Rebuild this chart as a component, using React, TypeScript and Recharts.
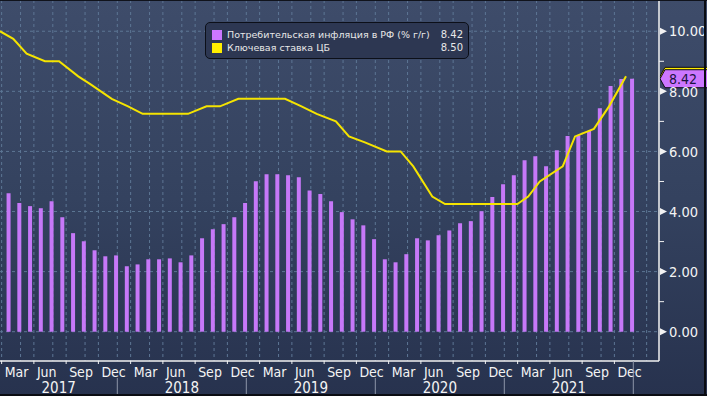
import React from 'react'
import {
  ComposedChart,
  Bar,
  Line,
  XAxis,
  YAxis,
  CartesianGrid,
  ReferenceLine
} from 'recharts'

// CPI, % y/y, monthly from Feb 2017 to Dec 2021
const cpiFirstMonth = '2017-02'
const cpi = [
  4.61, 4.28, 4.18, 4.11, 4.34, 3.81, 3.28, 3.01, 2.71, 2.51, 2.54,
  2.18, 2.24, 2.41, 2.41, 2.44, 2.31, 2.54, 3.11, 3.41, 3.58, 3.81, 4.28,
  5.01, 5.24, 5.24, 5.21, 5.14, 4.7, 4.58, 4.34, 3.98, 3.74, 3.54, 3.08,
  2.41, 2.31, 2.58, 3.11, 3.04, 3.21, 3.37, 3.61, 3.68, 4.01, 4.48, 4.91,
  5.21, 5.71, 5.84, 5.51, 6.04, 6.51, 6.54, 6.68, 7.44, 8.18, 8.41, 8.42
]

// CBR key rate, vertices of the plotted line
const rateDates = [
  '2017-02-03', '2017-03-11', '2017-04-18', '2017-06-09', '2017-07-19',
  '2017-09-12', '2017-10-15', '2017-12-16', '2018-02-01', '2018-03-12',
  '2018-07-19', '2018-09-10', '2018-10-18', '2018-12-09', '2019-04-19',
  '2019-06-05', '2019-07-18', '2019-09-11', '2019-10-18', '2019-12-02',
  '2020-02-03', '2020-03-12', '2020-04-17', '2020-06-10', '2020-07-16',
  '2021-02-07', '2021-03-08', '2021-04-10', '2021-06-14', '2021-07-19',
  '2021-09-11', '2021-10-24', '2021-12-11'
]
const rateValues = [
  10.0, 9.75, 9.25, 9.0, 9.0,
  8.5, 8.25, 7.75, 7.5, 7.25,
  7.25, 7.5, 7.5, 7.75, 7.75,
  7.5, 7.25, 7.0, 6.5, 6.3,
  6.0, 6.0, 5.5, 4.5, 4.25,
  4.25, 4.5, 5.0, 5.5, 6.5,
  6.75, 7.5, 8.5
]

const seriesNames = ['Потребительская инфляция в РФ (% г/г)', 'Ключевая ставка ЦБ']
const years = [2017, 2018, 2019, 2020, 2021]
const monthTickNames = ['Mar', 'Jun', 'Sep', 'Dec']
const yTicks = [0, 2, 4, 6, 8, 10]
const yMinorTicks = [1, 3, 5, 7, 9]

const BASE_YEAR = 2017
const X_MIN = 1.088
const X_MAX = 62.39
const Y_MIN = -0.975
const Y_MAX = 11.04
const BAR_IN_MONTH = 0.92 // bars sit at the end of their month
const TICK_SHIFT = -0.76

const CPI_COLOR = '#c678f8'
const RATE_COLOR = '#f5e400'
const AXIS_COLOR = '#f2f2f2'
const NARROW = "'Liberation Sans Narrow', 'Arial Narrow', 'DejaVu Sans Condensed', 'Liberation Sans', sans-serif"

// months since Jan 2017 (fractional)
const toMonths = (date: string) => {
  const [y, m, d] = date.split('-').map(Number)
  const dim = new Date(y, m, 0).getDate()
  return (y - BASE_YEAR) * 12 + (m - 1) + (d ? (d - 1) / dim : 0)
}

const firstIdx = toMonths(cpiFirstMonth)
const barData = cpi.map((v, i) => ({ t: firstIdx + i + BAR_IN_MONTH, cpi: v }))
const rateData = rateDates.map((d, i) => ({ t: toMonths(d), rate: rateValues[i] }))

const lastCpi = cpi[cpi.length - 1]
const lastRate = rateValues[rateValues.length - 1]

type TickDef = { t: number; kind: 'month' | 'sep' | 'year'; label: string }

const xTickDefs: TickDef[] = [
  ...years.flatMap(y =>
    monthTickNames.map((name, j) => ({
      t: (y - BASE_YEAR) * 12 + 2 + 3 * j + TICK_SHIFT,
      kind: 'month' as const,
      label: name
    }))
  ),
  ...years.map(y => ({ t: (y - BASE_YEAR + 1) * 12, kind: 'sep' as const, label: '' })),
  ...years.map(y => ({
    t: (Math.max(X_MIN, (y - BASE_YEAR) * 12) + Math.min(X_MAX, (y - BASE_YEAR + 1) * 12)) / 2,
    kind: 'year' as const,
    label: String(y)
  }))
]

// dashed verticals: quarter starts and the label tick spots
const gridT: number[] = []
for (let j = 0; j <= 20; j++) {
  if (3 * j > X_MIN && 3 * j < X_MAX) gridT.push(3 * j)
  const b = 3 * j + 2 + TICK_SHIFT
  if (b > X_MIN && b < X_MAX) gridT.push(b)
}

const XTick = (props: any) => {
  const { x, y, payload } = props
  const def = xTickDefs.find(d => Math.abs(d.t - payload.value) < 1e-6)
  if (!def) return null
  if (def.kind === 'month') {
    return (
      <g>
        <line x1={x} x2={x} y1={y} y2={y + 3} stroke={AXIS_COLOR} strokeWidth={1} />
        <text x={x + 3} y={y + 16} fill="#f4f4f4" fontSize={14} fontFamily={NARROW}>
          {def.label}
        </text>
      </g>
    )
  }
  if (def.kind === 'sep') {
    const last = def.t >= (years[years.length - 1] - BASE_YEAR + 1) * 12
    return <line x1={x} x2={x} y1={last ? y : y + 17} y2={y + 35} stroke="#8c95a8" strokeWidth={1} />
  }
  return (
    <text x={x} y={y + 32} textAnchor="middle" fill="#f4f4f4" fontSize={15} fontFamily={NARROW}>
      {def.label}
    </text>
  )
}

const YTick = (props: any) => {
  const { x, y, payload } = props
  const v = payload.value
  if (yMinorTicks.includes(v)) {
    return <line x1={x} x2={x + 5} y1={y} y2={y} stroke={AXIS_COLOR} strokeWidth={1} />
  }
  return (
    <g>
      <path d={`M${x + 1},${y - 3.5} L${x + 8},${y} L${x + 1},${y + 3.5} Z`} fill={AXIS_COLOR} />
      <text x={x + 10} y={y} dy="0.36em" fill="#f4f4f4" fontSize={14.5} fontFamily={NARROW}>
        {v.toFixed(2)}
      </text>
    </g>
  )
}

// value flag on the right axis
const Flag = (props: any) => {
  const { viewBox, fill, text, textColor } = props
  if (!viewBox) return null
  const x = viewBox.x + viewBox.width + 1
  const y = viewBox.y
  return (
    <g>
      <path
        d={`M${x},${y} L${x + 5},${y - 9} H708 V${y + 9} H${x + 5} Z`}
        fill={fill}
        stroke="#0a0a12"
        strokeWidth={1}
      />
      {text && (
        <text x={x + 9} y={y} dy="0.36em" fill={textColor} fontSize={14} fontFamily={NARROW}>
          {text}
        </text>
      )}
    </g>
  )
}

const legendItems = [
  { name: seriesNames[0], color: '#cc77ff', value: lastCpi.toFixed(2) },
  { name: seriesNames[1], color: '#ffee00', value: lastRate.toFixed(2) }
]

export default function App() {
  return (
    <div
      style={{
        position: 'relative',
        width: 707,
        height: 396,
        overflow: 'hidden',
        background: 'linear-gradient(180deg, #3e4c6a 0%, #34425f 50%, #27324e 100%)'
      }}
    >
      <style>{'body{margin:0}'}</style>
      <ComposedChart
        width={707}
        height={396}
        data={barData}
        margin={{ top: 0, right: 0, bottom: 0, left: 0 }}
      >
        <CartesianGrid
          xAxisId="m"
          stroke="#5d7694"
          strokeDasharray="3 3"
          horizontalValues={yTicks}
          verticalValues={gridT}
        />
        <XAxis
          xAxisId="m"
          type="number"
          dataKey="t"
          domain={[X_MIN, X_MAX]}
          allowDataOverflow
          ticks={xTickDefs.map(d => d.t)}
          interval={0}
          tick={<XTick />}
          tickLine={false}
          tickSize={0}
          tickMargin={0}
          height={35}
          axisLine={{ stroke: AXIS_COLOR, strokeWidth: 1.5 }}
        />
        <XAxis
          xAxisId="rate"
          type="number"
          dataKey="t"
          domain={[X_MIN, X_MAX]}
          allowDataOverflow
          hide
        />
        <YAxis
          orientation="right"
          type="number"
          domain={[Y_MIN, Y_MAX]}
          allowDataOverflow
          ticks={[...yTicks, ...yMinorTicks].sort((a, b) => a - b)}
          interval={0}
          tick={<YTick />}
          tickLine={false}
          tickSize={0}
          tickMargin={0}
          width={48}
          axisLine={{ stroke: AXIS_COLOR, strokeWidth: 1.5 }}
        />
        <Bar
          xAxisId="m"
          dataKey="cpi"
          fill={CPI_COLOR}
          barSize={4}
          isAnimationActive={false}
        />
        <Line
          xAxisId="rate"
          data={rateData}
          dataKey="rate"
          type="linear"
          stroke={RATE_COLOR}
          strokeWidth={2}
          dot={false}
          activeDot={false}
          isAnimationActive={false}
        />
        {/* key rate flag sits under the CPI flag, only its top edge shows */}
        <ReferenceLine
          xAxisId="m"
          y={lastRate}
          stroke="none"
          label={(p: any) => <Flag {...p} fill="#ffee00" />}
        />
        <ReferenceLine
          xAxisId="m"
          y={lastCpi}
          stroke="none"
          label={(p: any) => (
            <Flag {...p} fill="#cc77ff" textColor="#1a1240" text={lastCpi.toFixed(2)} />
          )}
        />
      </ComposedChart>

      {/* legend box */}
      <div
        style={{
          position: 'absolute',
          left: 205,
          top: 22,
          width: 264,
          height: 37,
          boxSizing: 'border-box',
          border: '1px solid #0c0f18',
          borderRadius: 5,
          background: '#2d3752',
          paddingTop: 5,
          fontFamily: "'DejaVu Sans', Verdana, sans-serif",
          fontSize: 9.5,
          color: '#e8e8e8'
        }}
      >
        {legendItems.map(item => (
          <div
            key={item.name}
            style={{ display: 'flex', alignItems: 'center', height: 13, lineHeight: '13px' }}
          >
            <span
              style={{ width: 10, height: 10, marginLeft: 6, marginRight: 5, background: item.color }}
            />
            <span style={{ flex: 1, whiteSpace: 'nowrap' }}>{item.name}</span>
            <span style={{ marginRight: 5, fontSize: 10 }}>{item.value}</span>
          </div>
        ))}
      </div>

      {/* frame edges */}
      <div style={{ position: 'absolute', left: 0, top: 0, width: 707, height: 1, background: '#10131c' }} />
      <div style={{ position: 'absolute', left: 704, top: 0, width: 2, height: 396, background: '#0a0c12' }} />
      <div style={{ position: 'absolute', left: 0, top: 394, width: 707, height: 2, background: '#0a0c12' }} />
    </div>
  )
}
